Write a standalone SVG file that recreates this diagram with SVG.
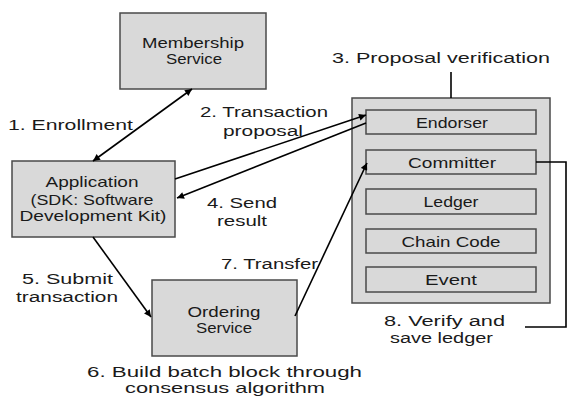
<svg xmlns="http://www.w3.org/2000/svg" width="568" height="396" viewBox="0 0 568 396">
<defs>
<marker id="ah" viewBox="0 0 10 10" refX="10" refY="5" markerWidth="8" markerHeight="7" orient="auto-start-reverse" markerUnits="userSpaceOnUse">
<path d="M0,0 L10,5 L0,10 z" fill="#000"/>
</marker>
<style>
.box{fill:#d9d9d9;stroke:#4a4a4a;stroke-width:1.5}
.in{fill:#d9d9d9;stroke:#4a4a4a;stroke-width:1.5}
text{font-family:"Liberation Sans","Noto Sans",sans-serif;fill:#1a1a1a}
.bt{font-size:14.5px;text-anchor:middle}
.lb{font-size:15.5px}
.sm{font-size:14.5px}
.ln{fill:none;stroke:#000;stroke-width:1.6}
</style>
</defs>
<g id="membership">
<rect class="box" x="120" y="13" width="146" height="76"/>
<text class="bt" x="193" y="48" textLength="102" lengthAdjust="spacingAndGlyphs">Membership</text>
<text class="bt" x="194" y="64" textLength="56" lengthAdjust="spacingAndGlyphs">Service</text>
</g>
<g id="application">
<rect class="box" x="12" y="161" width="163" height="76"/>
<text class="bt" x="92" y="187" textLength="93" lengthAdjust="spacingAndGlyphs">Application</text>
<text class="bt" x="92" y="205" textLength="123" lengthAdjust="spacingAndGlyphs">(SDK: Software</text>
<text class="bt" x="93" y="221" textLength="147" lengthAdjust="spacingAndGlyphs">Development Kit)</text>
</g>
<g id="ordering">
<rect class="box" x="152" y="280" width="145" height="76"/>
<text class="bt" x="224" y="317" textLength="73" lengthAdjust="spacingAndGlyphs">Ordering</text>
<text class="bt" x="224" y="333" textLength="56" lengthAdjust="spacingAndGlyphs">Service</text>
</g>
<g id="peer">
<rect class="box" x="352" y="98" width="198" height="205"/>
</g>
<g id="endorser">
<rect class="in" x="366" y="110" width="170" height="24"/>
<text class="bt" x="452" y="128" textLength="72" lengthAdjust="spacingAndGlyphs">Endorser</text>
</g>
<g id="committer">
<rect class="in" x="366" y="150" width="170" height="24"/>
<text class="bt" x="452" y="168" textLength="88" lengthAdjust="spacingAndGlyphs">Committer</text>
</g>
<g id="ledger">
<rect class="in" x="366" y="189" width="170" height="25"/>
<text class="bt" x="451" y="207" textLength="55" lengthAdjust="spacingAndGlyphs">Ledger</text>
</g>
<g id="chaincode">
<rect class="in" x="366" y="229" width="170" height="24"/>
<text class="bt" x="451" y="247" textLength="99" lengthAdjust="spacingAndGlyphs">Chain Code</text>
</g>
<g id="event">
<rect class="in" x="366" y="267" width="170" height="25"/>
<text class="bt" x="451" y="285" textLength="52" lengthAdjust="spacingAndGlyphs">Event</text>
</g>
<g id="connectors">
<line class="ln" x1="93" y1="161" x2="192" y2="89" marker-start="url(#ah)" marker-end="url(#ah)"/>
<line class="ln" x1="175" y1="179" x2="366" y2="115" marker-end="url(#ah)"/>
<line class="ln" x1="366" y1="123" x2="177" y2="198" marker-end="url(#ah)"/>
<line class="ln" x1="93" y1="237" x2="151" y2="317" marker-end="url(#ah)"/>
<line class="ln" x1="295" y1="316" x2="367" y2="163" marker-end="url(#ah)"/>
<line class="ln" x1="451" y1="72" x2="451" y2="98"/>
<path class="ln" d="M536,162 H566 V327 H525"/>
</g>
<g id="labels">
<text class="lb" x="8" y="130" textLength="125" lengthAdjust="spacingAndGlyphs">1. Enrollment</text>
<text class="lb" x="200" y="117" textLength="128" lengthAdjust="spacingAndGlyphs">2. Transaction</text>
<text class="lb" x="223" y="136" textLength="80" lengthAdjust="spacingAndGlyphs">proposal</text>
<text class="lb" x="332" y="63" textLength="218" lengthAdjust="spacingAndGlyphs">3. Proposal verification</text>
<text class="lb" x="207" y="208" textLength="70" lengthAdjust="spacingAndGlyphs">4. Send</text>
<text class="lb" x="217" y="226" textLength="50" lengthAdjust="spacingAndGlyphs">result</text>
<text class="lb" x="22" y="284" textLength="91" lengthAdjust="spacingAndGlyphs">5. Submit</text>
<text class="lb" x="16" y="302" textLength="102" lengthAdjust="spacingAndGlyphs">transaction</text>
<text class="lb sm" x="87" y="377" textLength="275" lengthAdjust="spacingAndGlyphs">6. Build batch block through</text>
<text class="lb sm" x="125" y="393" textLength="200" lengthAdjust="spacingAndGlyphs">consensus algorithm</text>
<text class="lb" x="221" y="269" textLength="97" lengthAdjust="spacingAndGlyphs">7. Transfer</text>
<text class="lb" x="384" y="326" textLength="121" lengthAdjust="spacingAndGlyphs">8. Verify and</text>
<text class="lb" x="390" y="343" textLength="103" lengthAdjust="spacingAndGlyphs">save ledger</text>
</g>
</svg>
